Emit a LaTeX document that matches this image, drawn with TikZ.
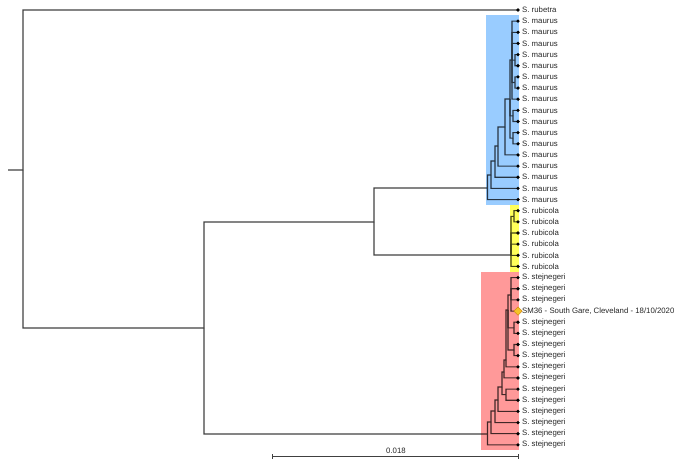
\documentclass[tikz,border=0pt]{standalone}
\usepackage{fontspec}
\setmainfont{Liberation Sans}
\usetikzlibrary{shapes.geometric}
\definecolor{bluebg}{RGB}{153,204,255}
\definecolor{yellowbg}{RGB}{255,255,90}
\definecolor{redbg}{RGB}{255,153,153}
\definecolor{markfill}{RGB}{245,195,40}
\definecolor{markdraw}{RGB}{215,140,20}
\begin{document}
\begin{tikzpicture}[x=1pt,y=-1pt,
  branch/.style={draw=black, line width=1.05pt},
  tiplabel/.style={anchor=west, font=\fontsize{7.8}{9}\selectfont, inner sep=0pt, text=black!85},
  tipdot/.style={fill=black}]
\useasboundingbox (0,0) rectangle (680,464);
% clade backgrounds
\fill[bluebg] (486,15) rectangle (518.5,205);
\fill[yellowbg] (509.5,205) rectangle (518.5,272);
\fill[redbg] (481,272) rectangle (518.5,450);
% tips
\foreach \i in {0,...,39} \coordinate (t\i) at (518,{10+11.15*\i});
% internal nodes
\coordinate (rs) at (8,170);
\coordinate (R0) at (23,170);
\coordinate (I) at (204,328);
\coordinate (U) at (374,222);
% maurus
\coordinate (n45) at (515,60.2);
\coordinate (n67) at (515,82.5);
\coordinate (P) at (512,60);
\coordinate (n910) at (513,115.9);
\coordinate (n1112) at (513,138.2);
\coordinate (Q) at (510,99);
\coordinate (E) at (505,127);
\coordinate (D) at (498,146);
\coordinate (C) at (495,161);
\coordinate (B) at (491,175);
\coordinate (A) at (487.5,188);
% rubicola
\coordinate (r12) at (514,216.3);
\coordinate (R) at (511,255);
% stejnegeri
\coordinate (T1) at (511,295);
\coordinate (T2) at (514,327.8);
\coordinate (T3) at (514,350);
\coordinate (T4) at (508,310);
\coordinate (T5) at (506,360);
\coordinate (SF) at (504,372);
\coordinate (sp) at (506,394.7);
\coordinate (SE) at (502,387);
\coordinate (SD) at (498,400);
\coordinate (SC) at (495,411);
\coordinate (SB) at (491,422);
\coordinate (SA) at (487.5,434);
% branches
\begin{scope}[transparency group, opacity=0.74]
\draw[branch] (rs) -- (R0);
\foreach \p/\c in {R0/t0, R0/I, I/U, I/SA, U/A, U/R,
  A/B, A/t17, B/C, B/t16, C/D, C/t15, D/E, D/t14, E/Q, E/t13,
  Q/P, Q/n910, Q/n1112, P/t1, P/t2, P/t3, P/n45, P/n67, P/t8,
  n45/t4, n45/t5, n67/t6, n67/t7, n910/t9, n910/t10, n1112/t11, n1112/t12,
  R/r12, R/t20, R/t21, R/t22, R/t23, r12/t18, r12/t19,
  SA/SB, SA/t39, SB/SC, SB/t38, SC/SD, SC/t37, SD/SE, SD/t36,
  SE/SF, SE/sp, sp/t34, sp/t35, SF/T5, SF/t33, T5/T4, T5/t32,
  T4/T1, T4/T2, T4/T3, T1/t24, T1/t25, T1/t26, T1/t27,
  T2/t28, T2/t29, T3/t30, T3/t31}
  \draw[branch] (\p) |- (\c);
\end{scope}
% tip dots
\foreach \i in {0,...,26,28,29,...,39} \fill[tipdot] (t\i) circle (1.8);
\node[diamond, fill=markfill, draw=markdraw, line width=0.5pt, minimum size=8.5pt, inner sep=0pt] (mk) at (t27) {};
% labels
\node[tiplabel] (lab0) at (522,10) {S. rubetra};
\foreach \i in {1,...,17} \node[tiplabel] (lab\i) at (522,{10+11.15*\i}) {S. maurus};
\foreach \i in {18,...,23} \node[tiplabel] (lab\i) at (522,{10+11.15*\i}) {S. rubicola};
\foreach \i in {24,25,26,28,29,...,39} \node[tiplabel] (lab\i) at (522,{10+11.15*\i}) {S. stejnegeri};
\node[tiplabel] (lab27) at (522,{10+11.15*27}) {SM36 - South Gare, Cleveland - 18/10/2020};
% scale bar
\coordinate (sb1) at (272,456);
\coordinate (sb2) at (518,456);
\draw[black!75, line width=0.8pt] (sb1) -- (sb2);
\draw[black!75, line width=0.8pt] ([yshift=-2.5pt]sb1) -- ([yshift=2.5pt]sb1);
\draw[black!75, line width=0.8pt] ([yshift=-2.5pt]sb2) -- ([yshift=2.5pt]sb2);
\node[font=\fontsize{7.8}{9}\selectfont, inner sep=0pt, text=black!85] (sbl) at (396,451) {0.018};
\end{tikzpicture}
\end{document}
